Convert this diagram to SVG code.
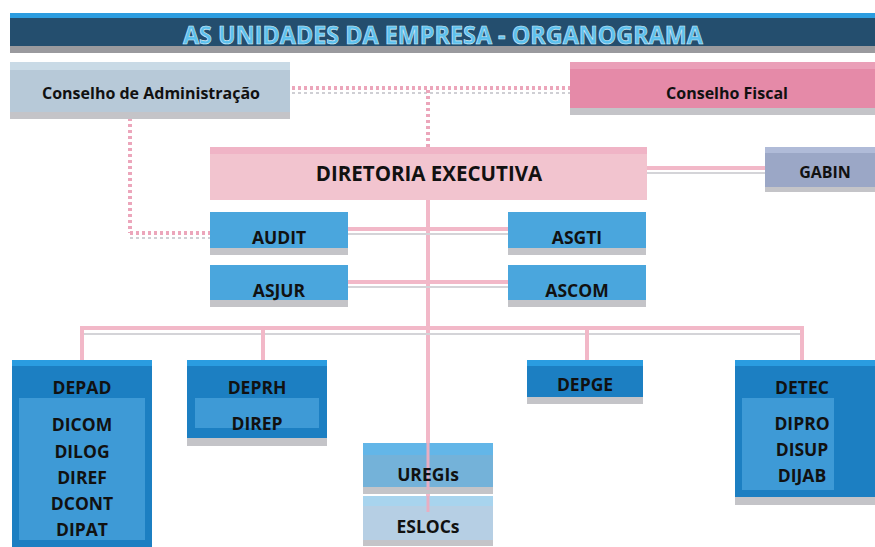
<svg xmlns="http://www.w3.org/2000/svg" width="875" height="547" viewBox="0 0 875 547">
<style>
text{font-family:"Open Sans","Liberation Sans",sans-serif;font-weight:bold;fill:#111;text-anchor:middle}
.t14{font-size:16px}
.b{font-size:17.5px}
.t17{font-size:20.5px}
.shadow{fill:#c4c4c8}
.blue{fill:#4aa6dd}
.dk{fill:#1c7fc2}
.inner{fill:#3e9ad6}
.pk{stroke:#f2b8c8;stroke-width:4;fill:none}
.pkd{stroke:#eca6bb;stroke-width:4;fill:none;stroke-dasharray:3 3}
.gr{stroke:#d4d4d8;stroke-width:2;fill:none}
</style>
<rect width="875" height="547" fill="#ffffff"/>
<g id="title">
<rect x="10" y="45" width="865" height="8" fill="#9a9a9e"/>
<rect x="10" y="13" width="865" height="33" fill="#244e6e"/>
<rect x="10" y="13" width="865" height="5" fill="#2c9de0"/>
<text x="443" y="44" style="font-size:25px;fill:#5cc0ee;stroke:#d8eef8;stroke-width:0.6" textLength="520" lengthAdjust="spacingAndGlyphs">AS UNIDADES DA EMPRESA - ORGANOGRAMA</text>
</g>
<g id="connectors">
<line x1="292" y1="88" x2="570" y2="88" class="pkd"/>
<line x1="292" y1="93" x2="570" y2="93" stroke="#cfcfd4" stroke-width="2" stroke-dasharray="3 3"/>
<line x1="130" y1="118" x2="130" y2="233" class="pkd"/>
<line x1="130" y1="233" x2="210" y2="233" class="pkd"/>
<line x1="130" y1="238" x2="210" y2="238" stroke="#cfcfd4" stroke-width="2" stroke-dasharray="3 3"/>
<line x1="428" y1="90" x2="428" y2="147" class="pkd"/>
<line x1="428" y1="200" x2="428" y2="500" class="pk"/>
<line x1="647" y1="168" x2="765" y2="168" class="pk"/>
<line x1="647" y1="173" x2="765" y2="173" class="gr"/>
<line x1="348" y1="229" x2="508" y2="229" class="pk"/>
<line x1="348" y1="234" x2="508" y2="234" class="gr"/>
<line x1="348" y1="282" x2="508" y2="282" class="pk"/>
<line x1="348" y1="287" x2="508" y2="287" class="gr"/>
<polyline points="82,360 82,328 802,328 802,360" class="pk"/>
<line x1="84" y1="334" x2="800" y2="334" class="gr"/>
<line x1="263" y1="328" x2="263" y2="360" class="pk"/>
<line x1="587" y1="328" x2="587" y2="360" class="pk"/>
</g>
<g id="conselho-admin">
<rect x="10" y="110" width="280" height="9" class="shadow"/>
<rect x="10" y="62" width="280" height="50" fill="#b7c9d8"/>
<rect x="10" y="62" width="280" height="8" fill="#c9dae6"/>
<text x="151" y="99" class="t14">Conselho de Administração</text>
</g>
<g id="conselho-fiscal">
<rect x="570" y="106" width="305" height="9" class="shadow"/>
<rect x="570" y="62" width="305" height="46" fill="#e58aa8"/>
<rect x="570" y="62" width="305" height="7" fill="#ea9fb8"/>
<text x="727" y="99" class="t14">Conselho Fiscal</text>
</g>
<g id="diretoria">
<rect x="210" y="147" width="437" height="53" fill="#f2c4cf"/>
<rect x="210" y="147" width="437" height="7" fill="#f0b4c6"/>
<text x="429" y="181" class="t17">DIRETORIA EXECUTIVA</text>
</g>
<g id="gabin">
<rect x="765" y="185" width="110" height="7" class="shadow"/>
<rect x="765" y="147" width="110" height="40" fill="#9ba7c6"/>
<rect x="765" y="147" width="110" height="6" fill="#b0bbd8"/>
<text x="825" y="178" class="t14">GABIN</text>
</g>
<g id="audit">
<rect x="210" y="247" width="138" height="8" class="shadow"/>
<rect x="210" y="212" width="138" height="36" class="blue"/>
<text x="279" y="244" class="b">AUDIT</text>
</g>
<g id="asgti">
<rect x="508" y="247" width="138" height="8" class="shadow"/>
<rect x="508" y="212" width="138" height="36" class="blue"/>
<text x="577" y="244" class="b">ASGTI</text>
</g>
<g id="asjur">
<rect x="210" y="299" width="138" height="8" class="shadow"/>
<rect x="210" y="265" width="138" height="35" class="blue"/>
<text x="279" y="297" class="b">ASJUR</text>
</g>
<g id="ascom">
<rect x="508" y="299" width="138" height="8" class="shadow"/>
<rect x="508" y="265" width="138" height="35" class="blue"/>
<text x="577" y="297" class="b">ASCOM</text>
</g>
<g id="depad">
<rect x="12" y="360" width="140" height="187" class="dk"/>
<rect x="12" y="360" width="140" height="6" fill="#2a9ce0"/>
<rect x="19" y="398" width="126" height="142" class="inner"/>
<text x="82" y="394" class="b">DEPAD</text>
<text x="82" y="431" class="b">DICOM</text>
<text x="82" y="458" class="b">DILOG</text>
<text x="82" y="484" class="b">DIREF</text>
<text x="82" y="510" class="b">DCONT</text>
<text x="82" y="536" class="b">DIPAT</text>
</g>
<g id="deprh">
<rect x="187" y="437" width="140" height="9" class="shadow"/>
<rect x="187" y="360" width="140" height="78" class="dk"/>
<rect x="187" y="360" width="140" height="6" fill="#2a9ce0"/>
<rect x="195" y="398" width="124" height="30" class="inner"/>
<text x="257" y="394" class="b">DEPRH</text>
<text x="257" y="430" class="b">DIREP</text>
</g>
<g id="depge">
<rect x="527" y="396" width="116" height="8" class="shadow"/>
<rect x="527" y="360" width="116" height="37" class="dk"/>
<rect x="527" y="360" width="116" height="6" fill="#2a9ce0"/>
<text x="585" y="391" class="b">DEPGE</text>
</g>
<g id="detec">
<rect x="735" y="496" width="140" height="9" class="shadow"/>
<rect x="735" y="360" width="140" height="137" class="dk"/>
<rect x="735" y="360" width="140" height="6" fill="#2a9ce0"/>
<rect x="742" y="398" width="92" height="92" class="inner"/>
<text x="802" y="394" class="b">DETEC</text>
<text x="802" y="430" class="b">DIPRO</text>
<text x="802" y="456" class="b">DISUP</text>
<text x="802" y="482" class="b">DIJAB</text>
</g>
<g id="uregis">
<rect x="363" y="486" width="130" height="8" class="shadow"/>
<rect x="363" y="443" width="130" height="44" fill="#74b2d9"/>
<rect x="363" y="443" width="130" height="12" fill="#63b6e8"/>
<line x1="428" y1="443" x2="428" y2="490" stroke="#e8aec2" stroke-width="3"/>
<text x="428" y="481" class="b">UREGIs</text>
</g>
<g id="eslocs">
<rect x="363" y="539" width="130" height="7" class="shadow"/>
<rect x="363" y="496" width="130" height="44" fill="#b6cfe4"/>
<rect x="363" y="496" width="130" height="10" fill="#a8d4ee"/>
<line x1="428" y1="496" x2="428" y2="512" stroke="#e8aec2" stroke-width="3"/>
<text x="428" y="533" class="b">ESLOCs</text>
</g>
</svg>
